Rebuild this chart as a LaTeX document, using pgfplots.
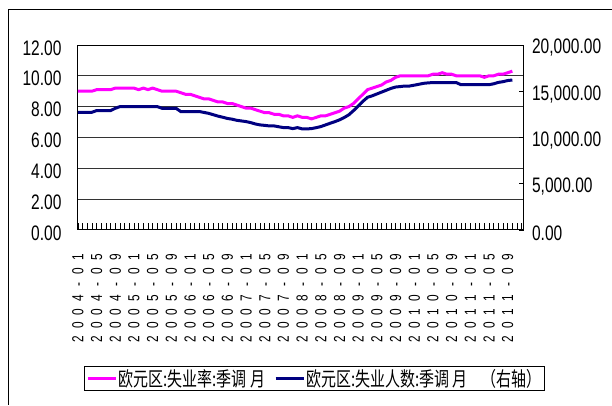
\documentclass[border=0pt]{standalone}
\usepackage{fontspec}
\setmainfont{Liberation Sans}[FakeStretch=0.74]
\newfontfamily\cjk{Noto Sans CJK SC}[FakeStretch=0.75]
\usepackage{pgfplots}
\usepackage{pgfplotstable}
\pgfplotsset{compat=1.18}

\definecolor{rate}{RGB}{255,0,255}
\definecolor{pers}{RGB}{0,0,128}

% spread the characters of a date label
\def\spc#1{\spcA#1\relax}
\def\spcA#1{\ifx#1\relax\else\makebox[13.7pt]{#1}\expandafter\spcA\fi}

% month index (0 = 2004-01), rate in %, persons in thousands
\pgfplotstableread{
m rate pers
0 9.0 12720
1 9.0 12720
2 9.0 12720
3 9.0 12720
4 9.1 12900
5 9.1 12900
6 9.1 12900
7 9.1 12900
8 9.2 13150
9 9.2 13330
10 9.2 13330
11 9.2 13330
12 9.2 13330
13 9.1 13330
14 9.2 13330
15 9.1 13330
16 9.2 13330
17 9.1 13330
18 9.0 13150
19 9.0 13150
20 9.0 13150
21 9.0 13150
22 8.9 12800
23 8.8 12800
24 8.8 12800
25 8.7 12800
26 8.6 12800
27 8.5 12700
28 8.5 12600
29 8.4 12450
30 8.3 12300
31 8.3 12180
32 8.2 12050
33 8.2 11970
34 8.1 11850
35 8.0 11780
36 7.9 11710
37 7.9 11600
38 7.8 11450
39 7.7 11350
40 7.6 11300
41 7.6 11240
42 7.5 11240
43 7.5 11150
44 7.4 11060
45 7.4 11060
46 7.3 10950
47 7.4 11060
48 7.3 10920
49 7.3 10920
50 7.2 10950
51 7.3 11050
52 7.4 11170
53 7.4 11350
54 7.5 11530
55 7.6 11700
56 7.7 11900
57 7.9 12150
58 8.0 12450
59 8.2 12900
60 8.5 13400
61 8.8 13900
62 9.1 14340
63 9.2 14500
64 9.3 14700
65 9.4 14900
66 9.6 15100
67 9.7 15300
68 9.9 15450
69 10.0 15500
70 10.0 15560
71 10.0 15560
72 10.0 15650
73 10.0 15750
74 10.0 15850
75 10.0 15900
76 10.1 15930
77 10.1 15930
78 10.2 15930
79 10.1 15930
80 10.1 15930
81 10.0 15930
82 10.0 15700
83 10.0 15700
84 10.0 15700
85 10.0 15700
86 10.0 15700
87 9.9 15700
88 10.0 15700
89 10.0 15800
90 10.1 15950
91 10.1 16030
92 10.2 16150
93 10.3 16210
}\eudata

\begin{document}
\begin{tikzpicture}
\pgfplotsset{
  every axis/.append style={
    scale only axis, width=446pt, height=185pt,
    xmin=0, xmax=95.4,
    axis line style={black, line width=0.9pt},
  },
}
\begin{axis}[
  ymin=0, ymax=12,
  ytick={0,2,...,12},
  ytick pos=left,
  ytick style={draw=none},
  ymajorgrids, grid style={black!80, line width=0.8pt},
  xtick={0,4,...,92},
  minor xtick={0,...,95},
  xtick pos=bottom,
  tick align=inside,
  major tick length=7pt, minor tick length=7pt,
  xtick style={black, line width=0.6pt},
  minor x tick style={black, line width=0.6pt},
  xticklabels={\spc{2004-01},\spc{2004-05},\spc{2004-09},\spc{2005-01},\spc{2005-05},\spc{2005-09},
    \spc{2006-01},\spc{2006-05},\spc{2006-09},\spc{2007-01},\spc{2007-05},\spc{2007-09},
    \spc{2008-01},\spc{2008-05},\spc{2008-09},\spc{2009-01},\spc{2009-05},\spc{2009-09},
    \spc{2010-01},\spc{2010-05},\spc{2010-09},\spc{2011-01},\spc{2011-05},\spc{2011-09}},
  xticklabel style={yshift=-17pt, rotate=90, anchor=east, font=\fontsize{16}{16}\selectfont},
  yticklabel style={font=\fontsize{21}{21}\selectfont, yshift=-3pt},
  yticklabel shift=13pt,
  /pgf/number format/assume math mode=true,
  /pgf/number format/.cd, fixed, fixed zerofill, precision=2,
]
\addplot[rate, line width=3pt] table[x=m, y=rate] {\eudata};
\end{axis}
\begin{axis}[
  ymin=0, ymax=20000,
  ytick={0,5000,...,20000},
  axis x line=none,
  axis y line*=right,
  tick align=inside,
  major tick length=5pt,
  ytick style={black, line width=0.6pt},
  yticklabel style={font=\fontsize{21}{21}\selectfont, yshift=-3pt},
  yticklabel shift=5pt,
  scaled y ticks=false,
  /pgf/number format/assume math mode=true,
  /pgf/number format/.cd, fixed, fixed zerofill, precision=2, 1000 sep={,},
  /pgfplots/.cd,
  legend columns=2,
  legend style={at={(axis description cs:0.531,0)}, anchor=north, yshift=-136pt,
    draw=black, line width=0.9pt, inner sep=2pt,
    font=\cjk\fontsize{20}{20}\selectfont,
    nodes={inner sep=1pt},
    /tikz/every even column/.append style={column sep=8pt}},
  legend image code/.code={\draw[#1] (0pt,0pt) -- (28pt,0pt);},
]
\addlegendimage{rate, line width=3pt}
\addlegendentry{欧元区:失业率:季调 月}
\addplot[pers, line width=3pt] table[x=m, y=pers] {\eudata};
\addlegendentry{欧元区:失业人数:季调 月\hspace{14pt}（右轴）\hspace{10pt}}
\end{axis}
\draw[black, line width=1pt] (-69pt,-175pt) -- (-69pt,220pt) -- (534pt,220pt);
\path[use as bounding box] (-78pt,-175pt) rectangle (534pt,230pt);
\end{tikzpicture}
\end{document}
